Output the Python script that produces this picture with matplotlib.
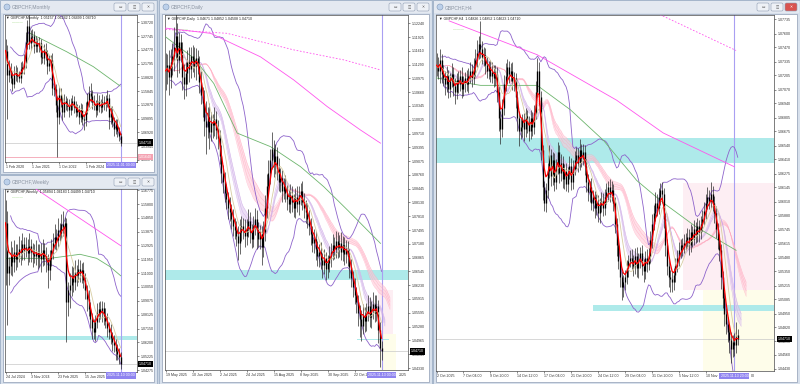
import matplotlib
matplotlib.use("Agg")
import matplotlib.pyplot as plt
import matplotlib.transforms as mtransforms
from matplotlib.patches import Rectangle, FancyBboxPatch
import numpy as np
import pandas as pd

plt.rcParams['font.family'] = ['Liberation Sans', 'DejaVu Sans']

W, H = 800, 384

# ---------------- monthly
m_close = [1.2460, 1.1930, 1.2050, 1.1870, 1.1740, 1.1940, 1.2000, 1.1900, 1.1870, 1.2060,
           1.2100, 1.2200, 1.2650, 1.3000, 1.2620, 1.2750, 1.2780, 1.2560, 1.2610, 1.2560,
           1.2620, 1.2320, 1.2300, 1.2480, 1.2380, 1.2130, 1.2200, 1.2250, 1.1650, 1.1620,
           1.1280, 1.1020, 1.1500, 1.1350, 1.1130, 1.1370, 1.1320, 1.1270, 1.1180, 1.1280,
           1.1380, 1.1240, 1.1140, 1.1180, 1.1030, 1.1180, 1.0990, 1.0950, 1.1180, 1.1370,
           1.1550, 1.1480, 1.1350, 1.1290, 1.1170, 1.1370, 1.1270, 1.1230, 1.1350, 1.1300,
           1.1350, 1.1430, 1.1020, 1.1120, 1.0920, 1.0770, 1.0870, 1.0720, 1.0620, 1.0471]
m_up = [25, 12, 20, 15, 12, 18, 14, 10, 12, 16,
        14, 18, 22, 12, 25, 15, 14, 10, 16, 12,
        14, 10, 15, 12, 14, 10, 16, 12, 15, 10,
        12, 20, 18, 14, 12, 15, 10, 12, 14, 16,
        12, 10, 14, 12, 10, 15, 12, 10, 16, 18,
        15, 20, 12, 14, 10, 18, 12, 14, 16, 12,
        14, 18, 10, 12, 14, 10, 12, 10, 8, 6]
m_dn = [10, 95, 14, 12, 15, 10, 14, 12, 10, 12,
        10, 14, 12, 16, 12, 14, 10, 15, 12, 14,
        12, 16, 10, 14, 12, 18, 12, 10, 16, 14,
        15, 86, 14, 12, 18, 10, 14, 12, 16, 12,
        10, 14, 12, 10, 16, 12, 14, 20, 12, 10,
        12, 14, 16, 12, 15, 10, 14, 12, 10, 12,
        14, 12, 25, 14, 12, 15, 12, 14, 12, 8]
m_ticks = [1.30720, 1.27745, 1.24770, 1.21795, 1.18820, 1.15845, 1.12870,
           1.09895, 1.06920, 1.03945, 1.00970]
m_date_idx = [0, 16, 32, 48]
m_date_txt = ["1 Feb 2020", "1 Jun 2021", "1 Oct 2022", "1 Feb 2024"]
m_green_i = [14.7, 36.6, 52.6, 68.6]
m_green_p = [1.2834, 1.2436, 1.2112, 1.1694]

# ---------------- weekly
w_close = [1.1450, 1.1100, 1.1150, 1.1220, 1.1180, 1.1250, 1.1200, 1.1230, 1.1270, 1.1250,
           1.1300, 1.1260, 1.1280, 1.1240, 1.1290, 1.1250, 1.1230, 1.1220, 1.1250, 1.1210,
           1.1240, 1.1200, 1.1260, 1.1220, 1.1190, 1.1120, 1.1200, 1.1260, 1.1310, 1.1350,
           1.1330, 1.1400, 1.1380, 1.1440, 1.1420, 1.1450, 1.0900, 1.0980, 1.1020, 1.1080,
           1.1040, 1.1110, 1.1090, 1.1130, 1.1100, 1.1120, 1.1050, 1.0980, 1.0920, 1.0850,
           1.0780, 1.0720, 1.0690, 1.0760, 1.0820, 1.0850, 1.0830, 1.0860, 1.0800, 1.0770,
           1.0720, 1.0690, 1.0650, 1.0620, 1.0600, 1.0560, 1.0540, 1.0520, 1.0471]
w_up = [16, 8, 6, 10, 6, 8, 5, 7, 9, 6,
        8, 5, 7, 6, 9, 5, 6, 7, 8, 5,
        6, 7, 8, 5, 6, 4, 6, 8, 7, 9,
        6, 8, 5, 7, 9, 4, 3, 6, 8, 7,
        6, 8, 5, 7, 6, 5, 6, 5, 4, 6,
        5, 4, 6, 5, 7, 5, 6, 5, 4, 6,
        5, 4, 6, 4, 5, 4, 5, 4, 3]
w_dn = [43, 36, 8, 6, 10, 7, 8, 6, 5, 9,
        6, 7, 5, 8, 6, 7, 9, 5, 6, 8,
        7, 9, 5, 6, 8, 12, 7, 5, 6, 4,
        7, 5, 6, 4, 6, 5, 28, 10, 12, 8,
        7, 6, 8, 5, 6, 7, 5, 6, 8, 5,
        6, 8, 5, 6, 4, 6, 5, 7, 6, 5,
        6, 5, 4, 6, 5, 6, 4, 5, 4]
w_ticks = [1.16775, 1.15800, 1.14850, 1.13875, 1.12925, 1.11950, 1.11000,
           1.10050, 1.09075, 1.08125, 1.07150, 1.06200, 1.05225, 1.04275]
w_date_idx = [0, 15, 31, 47]
w_date_txt = ["24 Jul 2024", "3 Nov 2024", "23 Feb 2025", "15 Jun 2025"]
w_green_i = [0, 26.3, 44, 53.8, 61.7, 68]
w_green_p = [1.1203, 1.1203, 1.1231, 1.1203, 1.1145, 1.1082]
w_mag_i = [17.4, 68]
w_mag_p = [1.1689, 1.1291]

# ---------------- daily
d_close = [1.1115, 1.1128, 1.1100, 1.1135, 1.1150, 1.1170, 1.1195, 1.1140, 1.1180, 1.1160,
           1.1100, 1.1085, 1.1110, 1.1135, 1.1120, 1.1150, 1.1140, 1.1125, 1.1145, 1.1130,
           1.1090, 1.1060, 1.1040, 1.1000, 1.0985, 1.1010, 1.0975, 1.0995, 1.0990, 1.1005,
           1.0980, 1.0960, 1.0920, 1.0880, 1.0860, 1.0835, 1.0820, 1.0800, 1.0790, 1.0775,
           1.0760, 1.0750, 1.0735, 1.0720, 1.0745, 1.0760, 1.0750, 1.0735, 1.0755, 1.0770,
           1.0745, 1.0730, 1.0760, 1.0775, 1.0750, 1.0730, 1.0740, 1.0710, 1.0745, 1.0800,
           1.0850, 1.0880, 1.0910, 1.0935, 1.0900, 1.0920, 1.0890, 1.0860, 1.0870, 1.0840,
           1.0850, 1.0835, 1.0820, 1.0810, 1.0830, 1.0815, 1.0800, 1.0825, 1.0810, 1.0830,
           1.0840, 1.0815, 1.0800, 1.0790, 1.0775, 1.0760, 1.0740, 1.0720, 1.0730, 1.0705,
           1.0690, 1.0700, 1.0680, 1.0670, 1.0685, 1.0660, 1.0675, 1.0690, 1.0700, 1.0715,
           1.0705, 1.0725, 1.0710, 1.0720, 1.0700, 1.0715, 1.0695, 1.0705, 1.0690, 1.0665,
           1.0640, 1.0620, 1.0600, 1.0585, 1.0560, 1.0545, 1.0530, 1.0555, 1.0540, 1.0560,
           1.0575, 1.0550, 1.0565, 1.0580, 1.0560, 1.0575, 1.0520, 1.0480, 1.0471]
d_up = [40, 25, 35, 30, 28, 45, 60, 30, 25, 20,
        22, 30, 25, 28, 35, 20, 25, 30, 22, 18,
        20, 25, 18, 30, 45, 22, 30, 25, 20, 28,
        18, 22, 20, 25, 18, 22, 20, 18, 25, 20,
        22, 18, 20, 25, 30, 22, 18, 25, 20, 28,
        20, 18, 22, 25, 20, 18, 22, 20, 25, 30,
        28, 30, 25, 40, 22, 28, 20, 25, 22, 18,
        20, 25, 18, 22, 25, 20, 18, 22, 25, 20,
        18, 22, 20, 18, 22, 20, 18, 20, 22, 18,
        20, 18, 22, 18, 20, 15, 18, 22, 20, 25,
        18, 22, 20, 18, 25, 20, 18, 22, 20, 15,
        18, 15, 20, 18, 15, 18, 20, 25, 18, 22,
        25, 20, 22, 28, 20, 25, 15, 18, 15]
d_dn = [45, 30, 40, 25, 30, 35, 25, 40, 30, 25,
        30, 35, 28, 25, 30, 22, 28, 25, 30, 22,
        25, 22, 30, 35, 60, 25, 40, 22, 30, 25,
        22, 25, 20, 22, 25, 20, 22, 25, 20, 22,
        25, 20, 22, 40, 25, 20, 22, 25, 20, 22,
        25, 22, 20, 22, 45, 20, 25, 40, 22, 20,
        22, 20, 25, 20, 28, 22, 25, 20, 22, 25,
        20, 22, 25, 20, 22, 25, 20, 22, 20, 25,
        22, 20, 22, 25, 20, 22, 25, 20, 22, 25,
        22, 25, 20, 30, 22, 25, 20, 22, 25, 20,
        22, 20, 25, 22, 20, 22, 25, 20, 22, 25,
        22, 25, 20, 25, 30, 40, 35, 20, 25, 22,
        20, 22, 25, 20, 22, 20, 30, 45, 20]
d_ticks = [1.12240, 1.11925, 1.11610, 1.11290, 1.10975, 1.10660, 1.10345, 1.10025,
           1.09710, 1.09395, 1.09075, 1.08760, 1.08445, 1.08130, 1.07810, 1.07495,
           1.07180, 1.06865, 1.06545, 1.06230, 1.05915, 1.05595, 1.05280, 1.04965,
           1.04645, 1.04330]
d_date_idx = [0, 16, 32, 48, 64, 80, 96, 112]
d_date_txt = ["19 May 2025", "10 Jun 2025", "2 Jul 2025", "24 Jul 2025", "15 Aug 2025",
              "8 Sep 2025", "30 Sep 2025", "22 Oct 2025"]
d_green_i = [0, 16.8, 28.6, 42.5, 62.2, 80, 93.8, 107.7, 127.4]
d_green_p = [1.1193, 1.1144, 1.1086, 1.0972, 1.0941, 1.0895, 1.0849, 1.0796, 1.0719]
d_mag_i = [0, 26.7, 56.3, 76, 95.8, 115.6, 127.4]
d_mag_p = [1.1213, 1.1201, 1.1147, 1.1094, 1.1033, 1.0979, 1.0949]
d_magd_i = [0, 36.5, 76, 105.7, 127.4]
d_magd_p = [1.1210, 1.1201, 1.1163, 1.1140, 1.1117]

# ---------------- H4
h_close = [1.0730, 1.0725, 1.0735, 1.0722, 1.0718, 1.0712, 1.0720, 1.0708, 1.0715, 1.0722,
           1.0710, 1.0705, 1.0716, 1.0712, 1.0720, 1.0708, 1.0713, 1.0718, 1.0712, 1.0720,
           1.0725, 1.0718, 1.0728, 1.0735, 1.0742, 1.0750, 1.0745, 1.0738, 1.0740, 1.0730,
           1.0725, 1.0728, 1.0720, 1.0724, 1.0718, 1.0722, 1.0705, 1.0680, 1.0670, 1.0690,
           1.0712, 1.0720, 1.0728, 1.0722, 1.0725, 1.0715, 1.0718, 1.0700, 1.0680, 1.0668,
           1.0672, 1.0678, 1.0670, 1.0682, 1.0675, 1.0668, 1.0680, 1.0672, 1.0685, 1.0705,
           1.0725, 1.0700, 1.0650, 1.0615, 1.0600, 1.0612, 1.0630, 1.0645, 1.0625, 1.0640,
           1.0620, 1.0635, 1.0648, 1.0628, 1.0638, 1.0622, 1.0630, 1.0618, 1.0628, 1.0635,
           1.0620, 1.0632, 1.0640, 1.0645, 1.0638, 1.0650, 1.0642, 1.0648, 1.0635, 1.0620,
           1.0610, 1.0615, 1.0600, 1.0605, 1.0595, 1.0600, 1.0590, 1.0598, 1.0602, 1.0595,
           1.0605, 1.0610, 1.0615, 1.0608, 1.0612, 1.0600, 1.0580, 1.0560, 1.0545, 1.0530,
           1.0520, 1.0525, 1.0530, 1.0538, 1.0545, 1.0548, 1.0545, 1.0540, 1.0550, 1.0538,
           1.0545, 1.0552, 1.0540, 1.0535, 1.0548, 1.0542, 1.0550, 1.0565, 1.0580, 1.0590,
           1.0600, 1.0595, 1.0605, 1.0612, 1.0608, 1.0585, 1.0560, 1.0540, 1.0530, 1.0528,
           1.0525, 1.0532, 1.0540, 1.0548, 1.0555, 1.0560, 1.0558, 1.0562, 1.0565, 1.0568,
           1.0560, 1.0572, 1.0566, 1.0575, 1.0570, 1.0578, 1.0572, 1.0580, 1.0585, 1.0592,
           1.0600, 1.0605, 1.0602, 1.0608, 1.0600, 1.0590, 1.0575, 1.0565, 1.0555, 1.0530,
           1.0510, 1.0495, 1.0485, 1.0478, 1.0470, 1.0462, 1.0468, 1.0465, 1.0475, 1.0471]
h_up = [12, 8, 10, 6, 8, 7, 9, 6, 8, 10,
        6, 8, 7, 9, 6, 8, 7, 6, 8, 7,
        8, 6, 9, 10, 12, 8, 22, 8, 7, 6,
        8, 6, 7, 9, 6, 8, 6, 5, 7, 8,
        9, 12, 8, 6, 7, 8, 6, 5, 6, 7,
        8, 6, 7, 8, 6, 7, 8, 6, 7, 10,
        12, 8, 6, 5, 6, 7, 8, 10, 6, 8,
        7, 6, 9, 7, 8, 6, 7, 8, 6, 9,
        7, 8, 9, 8, 7, 10, 6, 8, 7, 6,
        7, 6, 8, 7, 6, 8, 7, 6, 8, 7,
        8, 9, 6, 7, 9, 6, 5, 6, 5, 6,
        5, 7, 6, 8, 6, 7, 8, 6, 7, 8,
        7, 6, 8, 7, 6, 8, 7, 8, 9, 8,
        10, 8, 9, 7, 8, 6, 5, 6, 7, 6,
        7, 6, 8, 7, 8, 6, 7, 8, 6, 8,
        7, 8, 6, 9, 7, 8, 6, 7, 8, 9,
        8, 10, 7, 12, 8, 6, 7, 6, 5, 6,
        5, 6, 5, 7, 6, 8, 7, 9, 12, 6]
h_dn = [10, 8, 12, 9, 8, 10, 7, 9, 8, 6,
        9, 12, 7, 8, 6, 9, 7, 8, 6, 8,
        7, 9, 6, 8, 7, 6, 8, 7, 9, 8,
        7, 8, 6, 7, 9, 8, 10, 12, 14, 8,
        7, 6, 8, 9, 7, 8, 9, 10, 12, 14,
        8, 10, 12, 8, 9, 10, 8, 9, 7, 6,
        5, 8, 10, 12, 8, 9, 8, 7, 9, 8,
        9, 7, 8, 9, 7, 8, 9, 7, 8, 6,
        8, 7, 6, 8, 9, 7, 8, 6, 9, 10,
        8, 9, 7, 8, 9, 7, 8, 9, 7, 8,
        7, 6, 8, 7, 6, 8, 9, 10, 8, 10,
        12, 9, 8, 7, 8, 6, 8, 9, 7, 8,
        9, 7, 8, 10, 7, 8, 6, 7, 8, 6,
        7, 8, 6, 7, 8, 9, 10, 8, 10, 12,
        9, 8, 7, 6, 8, 7, 8, 6, 7, 8,
        9, 7, 8, 6, 8, 7, 9, 6, 7, 6,
        7, 6, 8, 7, 8, 9, 8, 9, 10, 12,
        10, 12, 9, 10, 12, 14, 8, 10, 7, 6]
h_ticks = [1.07735, 1.07600, 1.07470, 1.07335, 1.07205, 1.07070, 1.06940, 1.06805,
           1.06675, 1.06540, 1.06410, 1.06275, 1.06145, 1.06010, 1.05880, 1.05745,
           1.05615, 1.05480, 1.05350, 1.05215, 1.05085, 1.04950, 1.04820, 1.04690,
           1.04560, 1.04430]
h_date_idx = [0, 16, 32, 48, 64, 80, 96, 112, 128, 144, 160]
h_date_txt = ["2 Oct 2025", "7 Oct 04:00", "9 Oct 20:00", "14 Oct 12:00", "17 Oct 04:00",
              "21 Oct 20:00", "24 Oct 12:00", "29 Oct 04:00", "31 Oct 20:00", "5 Nov 12:00",
              "10 Nov"]
h_green_i = [0, 26.2, 59.8, 79.5, 99.2, 119, 134.7, 154.4, 178]
h_green_p = [1.0718, 1.0711, 1.0711, 1.0688, 1.0659, 1.0621, 1.0600, 1.0577, 1.0555]
h_mag_i = [7.5, 59.8, 107, 134.7, 177]
h_mag_p = [1.0772, 1.0740, 1.0697, 1.0666, 1.0634]
h_magd_i = [132.7, 178]
h_magd_p = [1.0778, 1.0744]

last_price = 1.04710

CYAN = '#aeeaea'
PINK_ZONE = '#fdeef3'
YELLOW_ZONE = '#fefdea'
VLINE = '#a99ff2'
FS = 2.6


def to_fig(x0, y0, x1, y1):
    return [x0 / W, 1 - y1 / H, (x1 - x0) / W, (y1 - y0) / H]


fig = plt.figure(figsize=(8, 3.84), dpi=100)
fig.patch.set_facecolor('#c6d2e2')
bg = fig.add_axes([0, 0, 1, 1])
bg.set_xlim(0, W)
bg.set_ylim(H, 0)
bg.axis('off')


def window(x0, y0, x1, y1, title, red_close=False):
    bg.add_patch(Rectangle((x0, y0), x1 - x0, y1 - y0, fc='#d7e0ec', ec='#9fb0c6', lw=0.6))
    bg.add_patch(Rectangle((x0 + 1, y0 + 1), x1 - x0 - 2, 12, fc='#e4e9f1', ec='none'))
    bg.add_patch(Rectangle((x0 + 3, y0 + 14), x1 - x0 - 6, y1 - y0 - 16, fc='white', ec='#8e9db3', lw=0.5))
    bg.add_patch(plt.Circle((x0 + 7, y0 + 7), 3, fc='#bcd0ea', ec='#7f97b8', lw=0.4))
    bg.text(x0 + 12, y0 + 7.3, title, fontsize=3.6, color='#8a93a1', va='center')
    for k, bx in enumerate([x1 - 43, x1 - 29, x1 - 15]):
        fc = '#d9534f' if (red_close and k == 2) else '#eef1f6'
        bg.add_patch(FancyBboxPatch((bx, y0 + 3), 12, 8, boxstyle='round,pad=0,rounding_size=1.5',
                                    fc=fc, ec='#8e9db3', lw=0.4))
        sym = ['▭', '◫', '✕'][k]
        bg.text(bx + 6, y0 + 7.2, sym, fontsize=2.6, ha='center', va='center',
                color='white' if fc == '#d9534f' else '#555555')


window(0, 0, 157, 174, "GBPCHF,Monthly")
window(0, 175, 157, 384, "GBPCHF,Weekly")
window(159, 0, 432, 384, "GBPCHF,Daily")
window(433, 0, 800, 384, "GBPCHF,H4", red_close=True)


def chart(box, bar0, dx, pref, yref, k, closes, up, dn, unit, ticks, didx, dtxt, info,
          vline_i, stamp, tail=None):
    x0, y0, x1, y1 = box
    ax = fig.add_axes(to_fig(*box))
    ax.set_facecolor('white')
    ax.set_xlim((x0 - bar0) / dx, (x1 - bar0) / dx)
    ax.set_ylim(pref - (y1 - yref) / k, pref + (yref - y0) / k)
    for sp in ax.spines.values():
        sp.set_color('#4a4a4a')
        sp.set_linewidth(0.5)
    ax.yaxis.tick_right()
    ax.set_yticks(ticks)
    ax.set_yticklabels(['%.5f' % t for t in ticks])
    ax.set_xticks(didx)
    ax.set_xticklabels(dtxt)
    for lb in ax.get_xticklabels():
        lb.set_ha('left')
    ax.tick_params(axis='both', length=1.5, width=0.4, labelsize=FS, pad=1, colors='#333333')

    c = np.array(closes)
    o = np.r_[c[0], c[:-1]]
    hi = np.maximum(o, c) + np.array(up) * unit
    lo = np.minimum(o, c) - np.array(dn) * unit
    x = np.arange(len(c))
    ax.vlines(x, lo, hi, color='#2b2b2b', lw=0.5, zorder=4)
    ax.vlines(x, np.minimum(o, c), np.maximum(o, c), color='black', lw=0.95, zorder=4)

    ax.axhline(last_price, color='#c8c8c8', lw=0.5, zorder=1)
    ax.axvline(vline_i, color=VLINE, lw=0.8, zorder=2)

    blend_y = mtransforms.blended_transform_factory(ax.transAxes, ax.transData)
    ax.text(1.012, last_price, '%.5f' % last_price, transform=blend_y, fontsize=FS, color='white',
            va='center', ha='left', zorder=10, clip_on=False,
            bbox=dict(boxstyle='square,pad=0.3', fc='black', ec='none'))
    blend_x = mtransforms.blended_transform_factory(ax.transData, ax.transAxes)
    ax.text(vline_i, -0.008, stamp, transform=blend_x, fontsize=FS, color='white', va='top',
            ha='center', zorder=10, clip_on=False,
            bbox=dict(boxstyle='square,pad=0.3', fc='#8f84f0', ec='none'))
    if tail is not None:
        ax.text(tail[0], -0.008, tail[1], transform=blend_x, fontsize=FS, color='#333333',
                va='top', ha='left', clip_on=False)
    ax.text(0.01, 0.995, '▼ ' + info, transform=ax.transAxes, fontsize=FS, va='top',
            color='#222222', zorder=10)
    ax.text(0.05, 0.966, '———', transform=ax.transAxes, fontsize=FS, va='top',
            color='#8fd36f', zorder=10)
    return ax


def studies(ax, closes, ribbon=False, shift=0):
    s = pd.Series(closes)
    x = np.arange(len(s))
    mid = s.rolling(20, min_periods=4).mean()
    sd = s.rolling(20, min_periods=4).std(ddof=0)
    for band in (mid + 2 * sd, mid - 2 * sd):
        ax.plot(x, band, color='#8d63cb', lw=0.6, zorder=3)
    if ribbon:
        pink = np.array([s.ewm(span=n, adjust=False).mean() for n in (20, 23, 26, 29)])
        ax.fill_between(x + shift, pink.min(axis=0), pink.max(axis=0), color='#ffc8d6', alpha=0.55,
                        lw=0, zorder=2)
        for p in pink:
            ax.plot(x + shift, p, color='#ffa0b9', lw=0.3, alpha=0.7, zorder=2)
        purp = np.array([s.ewm(span=n, adjust=False).mean() for n in (9, 11, 13)])
        ax.fill_between(x + shift // 2, purp.min(axis=0), purp.max(axis=0), color='#e0c9f0',
                        alpha=0.6, lw=0, zorder=2)
        for p in purp:
            ax.plot(x + shift // 2, p, color='#c8a2e4', lw=0.3, alpha=0.8, zorder=2)
    ax.plot(x, s.rolling(8, min_periods=1).mean(), color='#d8cda2', lw=0.6, zorder=5)
    ax.plot(x, s.ewm(span=4, adjust=False).mean(), color='#ff0000', lw=0.9, zorder=6)


# monthly
axm = chart((5, 15, 137, 162), 5.5, 1.67, 1.30720, 22.3, 462.2, m_close, m_up, m_dn, 0.001,
            m_ticks, m_date_idx, m_date_txt, "GBPCHF,Monthly  1.05157 1.06242 1.04499 1.04710",
            69, "2025.11.01 00:00")
axm.add_patch(Rectangle((28, 1.0649), 40, 0.0008, fc=CYAN, ec='none', zorder=1))
axm.axhline(1.0164, color='#f4a2b2', lw=0.6, zorder=1)
axm.text(1.012, 1.0164, '1.01640', transform=mtransforms.blended_transform_factory(axm.transAxes, axm.transData),
         fontsize=FS, color='white', va='center', ha='left', zorder=10, clip_on=False,
         bbox=dict(boxstyle='square,pad=0.3', fc='#f4a2b2', ec='none'))
studies(axm, m_close)
axm.plot(m_green_i, m_green_p, color='#6db56d', lw=0.6, zorder=3)

# weekly
axw = chart((5, 189, 137, 372), 5.5, 1.694, 1.16775, 190, 1440, w_close, w_up, w_dn, 0.001,
            w_ticks, w_date_idx, w_date_txt, "GBPCHF,Weekly  1.05894 1.06183 1.04499 1.04710",
            68, "2025.11.10 00:00")
axw.axhspan(1.0636, 1.0664, fc=CYAN, ec='none', zorder=1)
studies(axw, w_close)
axw.plot(w_green_i, w_green_p, color='#6db56d', lw=0.6, zorder=3)
axw.plot(w_mag_i, w_mag_p, color='#ff55ee', lw=0.6, zorder=3)

# daily
axd = chart((165, 15, 408, 370), 165.5, 1.6875, 1.12240, 23.3, 4358, d_close, d_up, d_dn, 0.0001,
            d_ticks, d_date_idx, d_date_txt, "GBPCHF,Daily  1.04671 1.04852 1.04508 1.04710",
            128, "2025.11.13 00:00", tail=(138.0, "2025"))
axd.axhspan(1.0635, 1.0658, fc=CYAN, ec='none', zorder=1)
axd.add_patch(Rectangle((126, 1.0512), 8.8, 0.0100, fc=PINK_ZONE, ec='none', zorder=0.5))
axd.add_patch(Rectangle((127.4, 1.0400), 9, 0.0112, fc=YELLOW_ZONE, ec='none', zorder=0.5))
axd.add_patch(Rectangle((113.6, 1.0497), 18.7, 0.0003, fc=CYAN, ec='none', zorder=1))
studies(axd, d_close, ribbon=True, shift=5)
axd.plot(d_green_i, d_green_p, color='#6db56d', lw=0.6, zorder=3)
axd.plot(d_mag_i, d_mag_p, color='#ff55ee', lw=0.6, zorder=3)
axd.plot(d_magd_i, d_magd_p, color='#ff55ee', lw=0.6, ls=(0, (2, 2)), zorder=3)

# H4
axh = chart((436, 15, 774, 371), 436.5, 1.683, 1.07735, 19.3, 10572, h_close, h_up, h_dn, 0.0001,
            h_ticks, h_date_idx, h_date_txt, "GBPCHF,H4  1.04826 1.04852 1.04623 1.04710",
            177, "2025.11.13 20:00", tail=(187.0, "00"))
axh.axhspan(1.06374, 1.06612, fc=CYAN, ec='none', zorder=1)
axh.add_patch(Rectangle((146.5, 1.05174), 80, 0.01013, fc=PINK_ZONE, ec='none', zorder=0.5))
axh.add_patch(Rectangle((158.3, 1.0400), 80, 0.01174, fc=YELLOW_ZONE, ec='none', zorder=0.5))
axh.add_patch(Rectangle((92.9, 1.0498), 120, 0.0005, fc=CYAN, ec='none', zorder=1))
studies(axh, h_close, ribbon=True, shift=5)
axh.plot(h_green_i, h_green_p, color='#6db56d', lw=0.6, zorder=3)
axh.plot(h_mag_i, h_mag_p, color='#ff55ee', lw=0.6, zorder=3)
axh.plot(h_magd_i, h_magd_p, color='#ff55ee', lw=0.6, ls=(0, (2, 2)), zorder=3)

fig.savefig("out.png", dpi=100, facecolor=fig.get_facecolor())
